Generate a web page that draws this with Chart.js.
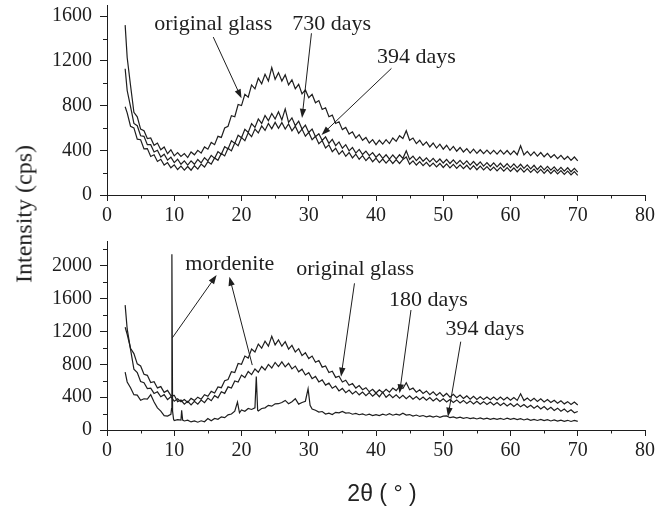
<!DOCTYPE html>
<html>
<head>
<meta charset="utf-8">
<script src="https://cdn.jsdelivr.net/npm/chart.js@4.4.0/dist/chart.umd.min.js"></script>
<style>
  body { margin: 0; background: #fff; }
  #wrap { position: relative; width: 672px; height: 507px; background: #fff; }
  #top { position: absolute; left: 0; top: 0; }
  #bottom { position: absolute; left: 0; top: 230px; }
  #ylabel { position: absolute; left: 24px; top: 214px; transform: translate(-50%, -50%) rotate(-90deg); font: 24px 'Liberation Serif'; white-space: nowrap; color: #222; }
  #xlabel { position: absolute; left: 382px; top: 493px; transform: translate(-50%, -50%); font: 23px 'Liberation Sans'; white-space: nowrap; color: #222; }
</style>
</head>
<body>
<div id="wrap">
  <canvas id="top" width="672" height="230"></canvas>
  <canvas id="bottom" width="672" height="277"></canvas>
  <div id="ylabel">Intensity (cps)</div>
  <div id="xlabel">2θ (&nbsp;°&nbsp;)</div>
</div>
<script>
// axis ticks
const xTicks = [0, 10, 20, 30, 40, 50, 60, 70, 80];
const topYTicks = [0, 400, 800, 1200, 1600];
const bottomYTicks = [0, 400, 800, 1200, 1600, 2000];

// 2-theta grid shared by the smooth scans
const twoTheta = [2.7, 3, 3.5, 4, 4.5, 5, 5.5, 6, 6.5, 7, 7.5, 8, 8.5, 9, 9.5,
  10, 10.5, 11, 11.5, 12, 12.5, 13, 13.5, 14, 14.5, 15, 15.5, 16, 16.5, 17, 17.5, 18, 18.5, 19, 19.5,
  20, 20.5, 21, 21.5, 22, 22.5, 23, 23.5, 24, 24.5, 25, 25.5, 26, 26.5, 27, 27.5, 28, 28.5, 29, 29.5,
  30, 30.5, 31, 31.5, 32, 32.5, 33, 33.5, 34, 34.5, 35, 35.5, 36, 36.5, 37, 37.5, 38, 38.5, 39, 39.5,
  40, 40.5, 41, 41.5, 42, 42.5, 43, 43.5, 44, 44.5, 45, 45.5, 46, 46.5, 47, 47.5, 48, 48.5, 49, 49.5,
  50, 50.5, 51, 51.5, 52, 52.5, 53, 53.5, 54, 54.5, 55, 55.5, 56, 56.5, 57, 57.5, 58, 58.5, 59, 59.5,
  60, 60.5, 61, 61.5, 62, 62.5, 63, 63.5, 64, 64.5, 65, 65.5, 66, 66.5, 67, 67.5, 68, 68.5, 69, 69.5,
  70];

const originalGlass = [1520, 1230, 980, 740, 700, 590, 575, 505, 510, 445, 465, 405, 430, 370, 405,
  350, 380, 345, 370, 335, 385, 360, 400, 375, 430, 410, 470, 450, 525, 515, 600, 615, 710, 700, 810,
  800, 900, 875, 985, 950, 1045, 995, 1080, 1020, 1140, 1035, 1095, 1020, 1075, 985, 1030, 950, 990, 905, 940,
  870, 900, 825, 845, 765, 780, 700, 715, 640, 655, 585, 605, 545, 565, 510, 540, 490, 515, 465, 495,
  450, 490, 455, 495, 460, 510, 480, 530, 505, 575, 490, 510, 460, 490, 445, 475, 430, 465, 420, 455,
  410, 445, 400, 435, 392, 425, 385, 415, 375, 410, 372, 405, 370, 402, 368, 400, 366, 402, 365, 398,
  362, 395, 360, 440, 358, 390, 352, 385, 348, 380, 342, 372, 335, 362, 325, 355, 318, 345, 310, 340,
  305];

const days730 = [1130, 935, 790, 640, 620, 530, 525, 450, 450, 385, 400, 340, 365, 312, 338,
  290, 320, 275, 305, 268, 305, 275, 318, 288, 333, 305, 355, 328, 388, 365, 432, 412, 485, 462, 535,
  512, 588, 560, 638, 605, 680, 640, 712, 665, 730, 680, 745, 672, 770, 650, 690, 620, 660, 590, 625,
  560, 590, 522, 548, 488, 520, 462, 498, 442, 475, 418, 450, 395, 425, 375, 408, 362, 392, 352, 380,
  338, 368, 328, 360, 322, 358, 324, 360, 328, 395, 318, 348, 308, 340, 302, 332, 296, 328, 292, 322,
  286, 318, 282, 315, 278, 310, 274, 305, 268, 300, 264, 296, 258, 290, 255, 288, 252, 284, 248, 280,
  245, 278, 242, 275, 238, 270, 234, 266, 228, 260, 224, 256, 222, 252, 216, 248, 214, 244, 208, 238,
  205];

const days394Top = [790, 735, 615, 600, 500, 495, 412, 415, 345, 360, 300, 320, 268, 290, 244,
  270, 228, 258, 222, 255, 222, 262, 232, 276, 250, 298, 276, 332, 310, 372, 350, 418, 395, 466, 440,
  515, 486, 556, 522, 590, 555, 618, 578, 640, 592, 650, 596, 648, 590, 635, 575, 616, 552, 590, 526,
  560, 494, 525, 458, 486, 420, 448, 388, 418, 364, 396, 346, 380, 332, 365, 320, 352, 308, 340, 298,
  330, 290, 322, 285, 318, 282, 316, 282, 318, 340, 275, 305, 268, 298, 262, 292, 256, 286, 252, 282,
  246, 278, 243, 274, 238, 270, 235, 266, 230, 262, 226, 258, 224, 254, 220, 250, 216, 248, 214, 245,
  212, 242, 208, 240, 205, 236, 202, 232, 198, 230, 194, 226, 192, 222, 188, 218, 184, 214, 180, 210,
  176];

const days180 = [1250, 1165, 995, 930, 805, 780, 678, 665, 578, 588, 512, 528, 458, 482, 418,
  422, 345, 365, 315, 348, 305, 350, 315, 365, 332, 388, 356, 418, 392, 465, 446, 525, 510, 596, 584,
  668, 638, 712, 674, 742, 703, 772, 730, 798, 755, 822, 772, 830, 768, 812, 744, 778, 708, 740, 670,
  698, 625, 652, 585, 610, 546, 570, 508, 535, 476, 506, 455, 486, 438, 472, 428, 462, 418, 455, 412,
  448, 405, 460, 398, 434, 394, 428, 388, 422, 382, 416, 375, 408, 368, 402, 362, 394, 354, 386, 348,
  380, 342, 372, 335, 366, 330, 360, 324, 354, 318, 350, 314, 345, 310, 340, 304, 334, 298, 328, 292,
  322, 286, 318, 282, 310, 274, 302, 266, 294, 256, 285, 248, 276, 238, 266, 228, 256, 218, 246, 210,
  225];

// 394 days (bottom): own grid so the sharp mordenite reflections are kept
const twoTheta394 = [2.7, 3, 3.5, 4, 4.5, 5, 5.5, 6, 6.5, 7, 7.5, 8, 8.5, 9, 9.5, 9.6, 9.65, 9.75, 9.9,
  10, 10.5, 11, 11.1, 11.25, 11.5, 12, 12.5, 13, 13.5, 14, 14.5, 15, 15.5, 16, 16.5, 17, 17.5, 18, 18.5, 19, 19.4, 19.7,
  20, 20.5, 21, 21.5, 22, 22.2, 22.4, 22.5, 23, 23.5, 24, 24.5, 25, 25.5, 26, 26.5, 27, 27.5, 28, 28.5, 29, 29.5, 29.9, 30.2,
  30.5, 31, 31.5, 32, 32.5, 33, 33.5, 34, 34.5, 35, 35.5, 36, 36.5, 37, 37.5, 38, 38.5, 39, 39.5,
  40, 40.5, 41, 41.5, 42, 42.5, 43, 43.5, 44, 44.5, 45, 45.5, 46, 46.5, 47, 47.5, 48, 48.5, 49, 49.5,
  50, 50.5, 51, 51.5, 52, 52.5, 53, 53.5, 54, 54.5, 55, 55.5, 56, 56.5, 57, 57.5, 58, 58.5, 59, 59.5,
  60, 60.5, 61, 61.5, 62, 62.5, 63, 63.5, 64, 64.5, 65, 65.5, 66, 66.5, 67, 67.5, 68, 68.5, 69, 69.5,
  70];

const days394Bottom = [705, 585, 515, 430, 425, 362, 380, 375, 430, 340, 270, 230, 175, 170, 190, 260, 2140, 230, 130,
  115, 125, 120, 240, 120, 110, 120, 98, 110, 95, 112, 100, 140, 112, 140, 130, 160, 150, 185, 195, 230, 340, 210,
  245, 228, 262, 250, 270, 650, 240, 232, 262, 270, 300, 290, 318, 320, 335, 360, 320, 345, 380, 315, 335, 350, 500, 300,
  255, 240, 218, 225, 195, 205, 188, 215, 208, 225, 205, 210, 192, 202, 186, 196, 180, 192, 176,
  188, 176, 192, 180, 198, 180, 192, 182, 205, 182, 188, 170, 182, 165, 176, 160, 172, 156, 170, 154,
  168, 172, 150, 160, 146, 156, 142, 152, 138, 148, 134, 146, 132, 145, 130, 142, 130, 142, 128, 145,
  130, 140, 126, 138, 122, 134, 118, 130, 116, 128, 114, 125, 110, 122, 108, 120, 106, 118, 104, 116,
  105];

const topNotes = [
  { text: 'original glass', at: [15.8, 1476], arrows: [[[15.8, 1413], [20.0, 865]]] },
  { text: '730 days', at: [33.4, 1476], arrows: [[[30.4, 1447], [29.0, 690]]] },
  { text: '394 days', at: [46.0, 1184], arrows: [[[42.3, 1133], [31.9, 537]]] }
];

const bottomNotes = [
  { text: 'mordenite', at: [18.25, 1947], arrows: [[[9.7, 1120], [16.3, 1886]], [[21.6, 790], [18.2, 1866]]] },
  { text: 'original glass', at: [36.9, 1886], arrows: [[[36.8, 1785], [34.8, 649]]] },
  { text: '180 days', at: [47.8, 1509], arrows: [[[45.2, 1460], [43.5, 447]]] },
  { text: '394 days', at: [56.2, 1156], arrows: [[[52.6, 1075], [50.7, 162]]] }
];

const ink = '#1e1e1e';
const tickFont = { family: 'Liberation Serif', size: 20 };

function toPoints(xs, ys) {
    return xs.map((x, i) => ({ x: x, y: ys[i] }));
}

function line(xs, ys) {
    return {
        data: toPoints(xs, ys),
        borderColor: ink,
        borderWidth: 1.2,
        pointRadius: 0,
        tension: 0,
        fill: false
    };
}

function drawArrow(ctx, x1, y1, x2, y2) {
    const a = Math.atan2(y2 - y1, x2 - x1);
    const len = 9, w = 3.2;
    ctx.beginPath();
    ctx.moveTo(x1, y1);
    ctx.lineTo(x2 - Math.cos(a) * len * 0.7, y2 - Math.sin(a) * len * 0.7);
    ctx.stroke();
    ctx.beginPath();
    ctx.moveTo(x2, y2);
    ctx.lineTo(x2 - len * Math.cos(a) + w * Math.sin(a), y2 - len * Math.sin(a) - w * Math.cos(a));
    ctx.lineTo(x2 - len * Math.cos(a) - w * Math.sin(a), y2 - len * Math.sin(a) + w * Math.cos(a));
    ctx.closePath();
    ctx.fill();
}

// labels + arrows (data coordinates) and the short minor ticks half way between majors
function notesPlugin(notes, yTicks) {
    return {
        id: 'notes',
        afterDatasetsDraw(chart) {
            const { ctx, chartArea, scales: { x, y } } = chart;
            ctx.save();
            ctx.fillStyle = ink;
            ctx.strokeStyle = ink;
            ctx.lineWidth = 1;

            ctx.beginPath();
            xTicks.slice(1).forEach((v, i) => {
                const px = Math.round(x.getPixelForValue((v + xTicks[i]) / 2)) + 0.5;
                ctx.moveTo(px, chartArea.bottom);
                ctx.lineTo(px, chartArea.bottom + 3.5);
            });
            yTicks.forEach(v => {
                const mid = v + (yTicks[1] - yTicks[0]) / 2;
                if (mid >= y.max) return;
                const py = Math.round(y.getPixelForValue(mid)) + 0.5;
                ctx.moveTo(chartArea.left, py);
                ctx.lineTo(chartArea.left - 4, py);
            });
            ctx.stroke();

            ctx.font = '22px "Liberation Serif"';
            ctx.textAlign = 'center';
            ctx.textBaseline = 'alphabetic';
            notes.forEach(n => {
                ctx.fillText(n.text, x.getPixelForValue(n.at[0]), y.getPixelForValue(n.at[1]));
                n.arrows.forEach(([from, to]) => {
                    drawArrow(ctx,
                        x.getPixelForValue(from[0]), y.getPixelForValue(from[1]),
                        x.getPixelForValue(to[0]), y.getPixelForValue(to[1]));
                });
            });
            ctx.restore();
        }
    };
}

function panelOptions(yMax, yTicks, pad) {
    return {
        responsive: false,
        animation: false,
        events: [],
        layout: { padding: pad },
        plugins: { legend: { display: false }, tooltip: { enabled: false } },
        scales: {
            x: {
                type: 'linear',
                min: 0,
                max: 80,
                ticks: { padding: 3, color: ink, font: tickFont, maxRotation: 0, autoSkip: false, callback: v => String(v) },
                grid: { drawOnChartArea: false, tickLength: 6, color: ink },
                border: { color: ink, width: 1 },
                afterBuildTicks: s => { s.ticks = xTicks.map(v => ({ value: v })); },
                afterFit: s => { s.height = 30; }
            },
            y: {
                type: 'linear',
                min: 0,
                max: yMax,
                ticks: { autoSkip: false, padding: 8, color: ink, font: tickFont, callback: v => String(v) },
                grid: { drawOnChartArea: false, tickLength: 7, color: ink },
                border: { color: ink, width: 1 },
                afterBuildTicks: s => { s.ticks = yTicks.map(v => ({ value: v })); },
                afterFit: s => { s.width = 107; s.paddingTop = 0; s.paddingBottom = 0; }
            }
        }
    };
}

new Chart(document.getElementById('top'), {
    type: 'line',
    data: {
        datasets: [
            line(twoTheta, originalGlass),
            line(twoTheta, days730),
            line(twoTheta, days394Top)
        ]
    },
    options: panelOptions(1700, topYTicks, { left: 0, right: 27, top: 5, bottom: 5 }),
    plugins: [notesPlugin(topNotes, topYTicks)]
});

new Chart(document.getElementById('bottom'), {
    type: 'line',
    data: {
        datasets: [
            line(twoTheta, originalGlass),
            line(twoTheta, days180),
            line(twoTheta394, days394Bottom)
        ]
    },
    options: panelOptions(2300, bottomYTicks, { left: 0, right: 27, top: 11, bottom: 47 }),
    plugins: [notesPlugin(bottomNotes, bottomYTicks)]
});
</script>
</body>
</html>
